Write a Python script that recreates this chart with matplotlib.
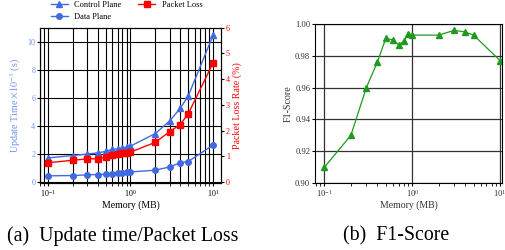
import matplotlib
matplotlib.use("Agg")
import matplotlib.pyplot as plt
from matplotlib.ticker import LogLocator, NullFormatter

plt.rcParams['font.family'] = ['Liberation Serif', 'DejaVu Serif']
plt.rcParams['mathtext.fontset'] = 'stix'

memory = [0.1, 0.2, 0.3, 0.4, 0.5, 0.6, 0.7, 0.8, 0.9, 1, 2, 3, 4, 5, 10]
control_plane = [1.71, 1.88, 1.98, 2.07, 2.17, 2.31, 2.36, 2.43, 2.48, 2.55, 3.45, 4.36, 5.24, 6.12, 10.45]
data_plane = [0.43, 0.45, 0.50, 0.52, 0.55, 0.57, 0.60, 0.64, 0.69, 0.71, 0.83, 1.07, 1.36, 1.45, 2.62]
packet_loss = [0.76, 0.85, 0.91, 0.91, 0.97, 1.05, 1.08, 1.13, 1.14, 1.17, 1.55, 1.97, 2.24, 2.65, 4.63]
f1_score = [0.910, 0.930, 0.960, 0.976, 0.991, 0.990, 0.987, 0.989, 0.994, 0.993, 0.993, 0.996, 0.995, 0.993, 0.977]

blue = '#4169E1'
blue_txt = '#6f93ee'
red = '#FF0000'
green = '#1e9a1e'
gray_txt = '#333333'

fig = plt.figure(figsize=(5.05, 2.5), dpi=100)

# ---- left panel ----
ax = fig.add_axes([0.0792, 0.267, 0.3584, 0.622])
ax2 = ax.twinx()
l1, = ax.plot(memory, control_plane, color=blue, marker='^', ms=4, lw=1, label='Control Plane')
l2, = ax.plot(memory, data_plane, color=blue, marker='o', ms=4, lw=1, label='Data Plane')
l3, = ax2.plot(memory, packet_loss, color=red, marker='s', ms=4, lw=1, label='Packet Loss')
ax.set_xscale('log')
ax.set_xlim(0.08, 12.5)
ax.set_ylim(-0.1, 11)
ax2.set_ylim(-0.04, 6)
ax.set_yticks([0, 2, 4, 6, 8, 10])
ax2.set_yticks([0, 1, 2, 3, 4, 5, 6])
ax.xaxis.set_major_locator(LogLocator(base=10, numticks=10))
ax.xaxis.set_minor_locator(LogLocator(base=10, subs=range(2, 10), numticks=10))
ax.xaxis.set_minor_formatter(NullFormatter())
ax.grid(True, which='both', axis='x', color='black', lw=0.8)
ax.grid(True, which='major', axis='y', color='black', lw=0.8)
ax.set_axisbelow(True)
ax.tick_params(axis='both', which='both', labelsize=5.8, direction='out', length=2, pad=1.5)
ax.tick_params(axis='y', labelcolor=blue_txt)
ax2.tick_params(axis='y', labelsize=5.8, labelcolor=red, direction='out', length=2, pad=1.5)
ax.set_xlabel('Memory (MB)', fontsize=7, labelpad=1)
ax.set_ylabel(r'Update Time $\times10^{-3}$ (s)', fontsize=7.2, color=blue_txt, labelpad=3)
ax2.set_ylabel('Packet Loss Rate (%)', fontsize=7.2, color=red, labelpad=2)
fig.legend(handles=[l1, l2, l3], ncol=2, frameon=False, fontsize=6,
           loc='upper left', bbox_to_anchor=(0.101, 0.995), borderpad=0, borderaxespad=0,
           handlelength=2.0, handletextpad=0.8, columnspacing=2.0, labelspacing=0.4)

# ---- right panel ----
bx = fig.add_axes([0.6238, 0.268, 0.370, 0.636])
bx.plot(memory, f1_score, color=green, marker='^', ms=4, lw=0.9)
bx.set_xscale('log')
bx.set_xlim(0.078, 10.5)
bx.set_ylim(0.90, 1.00)
bx.set_yticks([0.90, 0.92, 0.94, 0.96, 0.98, 1.00])
bx.set_yticklabels(['0.90', '0.92', '0.94', '0.96', '0.98', '1.00'])
bx.xaxis.set_major_locator(LogLocator(base=10, numticks=10))
bx.xaxis.set_minor_formatter(NullFormatter())
bx.grid(True, which='major', color=gray_txt, lw=0.9)
bx.set_axisbelow(True)
bx.tick_params(axis='both', which='both', labelsize=6.2, labelcolor=gray_txt, direction='out', length=2, pad=1.5)
bx.set_xlabel('Memory (MB)', fontsize=7, color=gray_txt, labelpad=1)
bx.set_ylabel('F1-Score', fontsize=7.2, color=gray_txt, labelpad=2)

# captions
fig.text(0.014, 0.055, '(a)  Update time/Packet Loss', fontsize=14.3, va='center', ha='left')
fig.text(0.679, 0.055, '(b)  F1-Score', fontsize=14.3, va='center', ha='left')

fig.savefig('out.png', dpi=100)
